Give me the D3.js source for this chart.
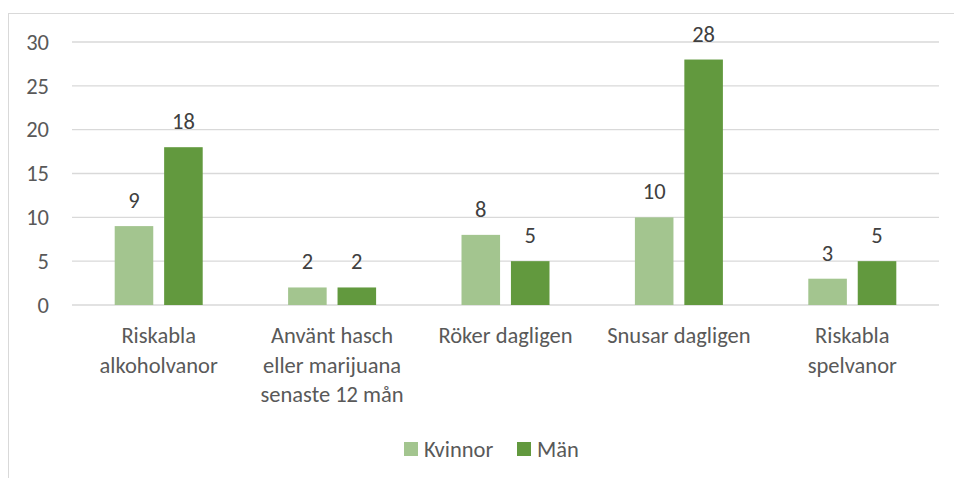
<!DOCTYPE html>
<html lang="sv">
<head>
    <meta charset="UTF-8">
    <title>Riskbeteenden</title>
    <script src="https://d3js.org/d3.v7.min.js"></script>
    <style>
        body { margin: 0; background: #fff; }
        text { font-family: Carlito, Lato, "Noto Sans", sans-serif; }
    </style>
</head>
<body>
<div id="chart"></div>

<script>
    // data
    const categories = [
        ["Riskabla", "alkoholvanor"],
        ["Använt hasch", "eller marijuana", "senaste 12 mån"],
        ["Röker dagligen"],
        ["Snusar dagligen"],
        ["Riskabla", "spelvanor"]
    ];
    const seriesNames = ["Kvinnor", "Män"];
    const kvinnor = [9, 2, 8, 10, 3];
    const man = [18, 2, 5, 28, 5];
    const yTicks = [0, 5, 10, 15, 20, 25, 30];
    const colors = ["#a3c58f", "#62993e"];

    const W = 954, H = 478;
    const margin = {top: 42, right: 15, bottom: 173, left: 72};
    const fontSize = "22.5px";

    const svg = d3.select("#chart")
        .append("svg")
        .attr("width", W)
        .attr("height", H);

    // chart frame (right/bottom edges fall outside the picture)
    svg.append("rect")
        .attr("x", 8.5).attr("y", 13.5)
        .attr("width", W + 20).attr("height", H + 20)
        .attr("fill", "none")
        .attr("stroke", "#d9d9d9");

    const keys = categories.map(c => c.join(" "));
    const rows = keys.map((k, i) => ({key: k, lines: categories[i], values: [kvinnor[i], man[i]]}));

    const x0 = d3.scaleBand()
        .domain(keys)
        .range([margin.left, W - margin.right])
        .paddingInner(0.4925)
        .paddingOuter(0.24625);

    const x1 = d3.scaleBand()
        .domain(seriesNames)
        .range([0, x0.bandwidth()])
        .paddingInner(0.22);

    const y = d3.scaleLinear()
        .domain([0, 30])
        .range([H - margin.bottom, margin.top]);

    // gridlines
    svg.append("g")
        .selectAll("line")
        .data(yTicks)
        .join("line")
        .attr("x1", margin.left)
        .attr("x2", W - margin.right)
        .attr("y1", d => y(d))
        .attr("y2", d => y(d))
        .attr("stroke", "#d9d9d9")
        .attr("stroke-width", 1.3);

    // y axis labels
    const yAxis = svg.append("g")
        .attr("transform", `translate(${margin.left - 23},0)`)
        .call(d3.axisLeft(y).tickValues(yTicks).tickSize(0).tickPadding(0));
    yAxis.select(".domain").remove();
    yAxis.selectAll("text")
        .attr("fill", "#595959")
        .style("font-size", fontSize);

    // bars
    const groups = svg.append("g")
        .selectAll("g")
        .data(rows)
        .join("g")
        .attr("transform", d => `translate(${x0(d.key)},0)`);

    groups.selectAll("rect")
        .data(d => d.values.map((v, i) => ({name: seriesNames[i], value: v, i})))
        .join("rect")
        .attr("x", d => x1(d.name))
        .attr("y", d => y(d.value))
        .attr("width", x1.bandwidth())
        .attr("height", d => y(0) - y(d.value))
        .attr("fill", d => colors[d.i]);

    groups.selectAll("text.val")
        .data(d => d.values.map((v, i) => ({name: seriesNames[i], value: v})))
        .join("text")
        .attr("class", "val")
        .attr("x", d => x1(d.name) + x1.bandwidth() / 2)
        .attr("y", d => y(d.value) - 18)
        .attr("text-anchor", "middle")
        .attr("fill", "#404040")
        .style("font-size", fontSize)
        .text(d => d.value);

    // category labels
    const catLabels = svg.append("g")
        .selectAll("text")
        .data(rows)
        .join("text")
        .attr("x", d => x0(d.key) + x0.bandwidth() / 2)
        .attr("y", 343)
        .attr("text-anchor", "middle")
        .attr("fill", "#595959")
        .style("font-size", fontSize);
    catLabels.selectAll("tspan")
        .data(d => d.lines)
        .join("tspan")
        .attr("x", function () { return this.parentNode.getAttribute("x"); })
        .attr("dy", (d, i) => i === 0 ? 0 : 29.5)
        .text(d => d);

    // legend
    const legendX = [404, 517];
    const legend = svg.append("g")
        .selectAll("g")
        .data(seriesNames)
        .join("g")
        .attr("transform", (d, i) => `translate(${legendX[i]},442)`);
    legend.append("rect")
        .attr("width", 14).attr("height", 14)
        .attr("fill", (d, i) => colors[i]);
    legend.append("text")
        .attr("x", 20).attr("y", 7)
        .attr("dy", "0.35em")
        .attr("fill", "#595959")
        .style("font-size", fontSize)
        .text(d => d);
</script>
</body>
</html>
